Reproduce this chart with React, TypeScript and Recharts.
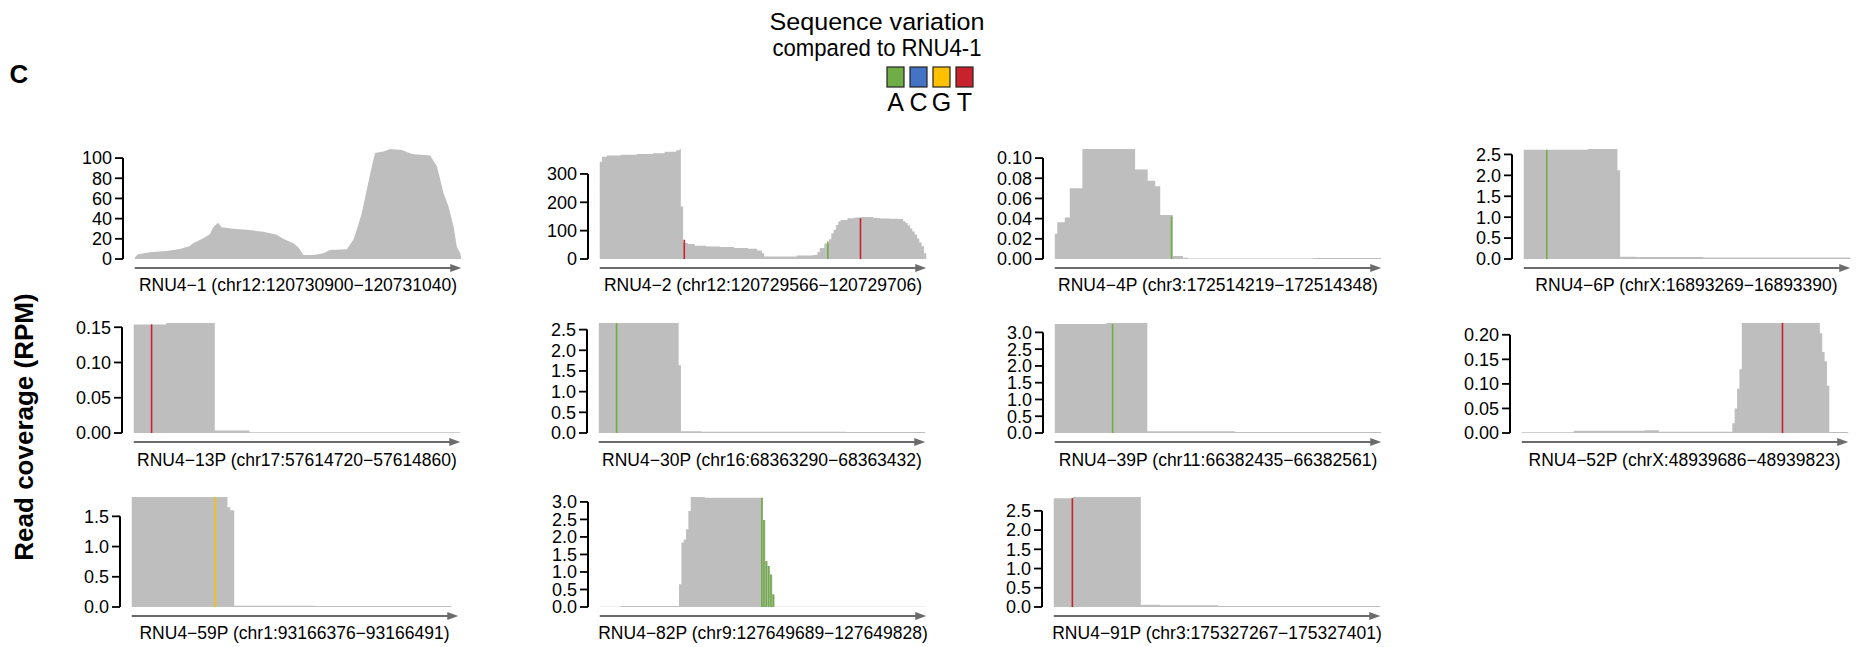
import React from "react";
import { ComposedChart, Area, XAxis, YAxis, ReferenceLine } from "recharts";

const FONT = '"Liberation Sans", Arimo, Helvetica, Arial, sans-serif';

// variant legend
const baseLetters = ["A", "C", "G", "T"];
const baseColors = ["#70AD47", "#4472C4", "#FFC000", "#C8232C"];

const panelLabels = [
  "RNU4−1 (chr12:120730900−120731040)",
  "RNU4−2 (chr12:120729566−120729706)",
  "RNU4−4P (chr3:172514219−172514348)",
  "RNU4−6P (chrX:16893269−16893390)",
  "RNU4−13P (chr17:57614720−57614860)",
  "RNU4−30P (chr16:68363290−68363432)",
  "RNU4−39P (chr11:66382435−66382561)",
  "RNU4−52P (chrX:48939686−48939823)",
  "RNU4−59P (chr1:93166376−93166491)",
  "RNU4−82P (chr9:127649689−127649828)",
  "RNU4−91P (chr3:175327267−175327401)",
];

// locus length in bases
const locusLengths = [141, 141, 130, 122, 141, 143, 127, 138, 116, 140, 135];

// coverage profiles: [base offset, RPM]
const covRNU4_1 = [
  [0, 0], [0.2, 2], [1.4, 4.6], [6.5, 6.6], [13.7, 8], [19.5, 10], [23.8, 13],
  [25.2, 15.5], [29.6, 20.5], [32.4, 24.5], [33.9, 31.5], [36, 36], [37.5, 31.5],
  [42.5, 30], [48.3, 29], [55.5, 27], [61.3, 24], [64.1, 20], [68.5, 15.5],
  [70.6, 11.6], [72.8, 4], [77.1, 4], [81.5, 5.6], [84.3, 9], [91.6, 9.6],
  [94.4, 19], [95.9, 29], [98, 45], [100.2, 68.5], [102.4, 92], [103.8, 105],
  [107.4, 106.6], [110.3, 109], [115.3, 108], [119.7, 104], [127.6, 102.6],
  [130.5, 92], [133.4, 65], [135.5, 52], [137.7, 32], [139.1, 12], [140.6, 5.6], [141, 0],
];
const covRNU4_2 = [
  [0, 343], [1, 361], [3, 365], [9, 368], [16, 370], [23, 373], [28, 378], [33, 384],
  [34.5, 388], [35, 185], [36, 56], [38, 53], [41, 47], [46, 44], [52, 42], [58, 39],
  [64, 36], [68, 30], [70, 20], [71, 9], [78, 9], [85, 12], [92, 14], [94, 25],
  [95, 39], [97, 55], [99, 70], [100, 90], [101, 103], [102, 120], [103, 132],
  [104, 138], [107, 144], [110, 146], [113, 148], [118, 145], [121, 143], [125, 142],
  [129, 141], [131, 133], [132, 127], [133, 118], [134, 108], [135, 97], [136, 86],
  [137, 72], [138, 58], [139, 45], [140, 20], [141, 20],
];
const covRNU4_4P = [
  [0, 0.025], [1, 0.0365], [4, 0.041], [6, 0.07], [11, 0.109], [32, 0.0886],
  [37, 0.0776], [40, 0.072], [42, 0.0435], [47, 0.003], [51, 0.0013], [53, 0.0006],
  [103, 0.001], [130, 0.001],
];
const covRNU4_6P = [
  [0, 2.61], [12, 2.615], [24, 2.63], [35, 2.12], [36, 0.056], [42, 0.045],
  [67, 0.035], [122, 0.035],
];
const covRNU4_13P = [[0, 0.154], [14, 0.156], [35, 0.0035], [50, 0.0012], [141, 0.0012]];
const covRNU4_30P = [[0, 2.66], [35, 1.64], [36, 0.04], [45, 0.032], [108, 0.024], [143, 0.024]];
const covRNU4_39P = [[0, 3.25], [20, 3.28], [36, 0.05], [70, 0.03], [127, 0.03]];
const covRNU4_52P = [
  [0, 0.0014], [22, 0.0047], [52, 0.0054], [58, 0.0027], [89, 0.02], [90, 0.05],
  [91, 0.09], [92, 0.13], [93, 0.224], [126, 0.203], [127, 0.165], [128, 0.146],
  [129, 0.096], [130, 0.002], [138, 0.002],
];
const covRNU4_59P = [[0, 1.82], [34, 1.65], [35, 1.6], [36.4, 0.02], [65, 0.017], [113.5, 0], [116, 0]];
const covRNU4_82P = [
  [0, 0.01], [9, 0.03], [34, 0.65], [35, 1.84], [36, 1.93], [37, 2.22], [38, 2.74],
  [39, 3.14], [45, 3.12], [70, 2.48], [71, 1.31], [72, 1.17], [73, 0.93], [74, 0.36],
  [75, 0.01], [140, 0.01],
];
const covRNU4_91P = [[0, 2.83], [8, 2.86], [36, 0.06], [44, 0.045], [68, 0.026], [135, 0.026]];

// variants vs RNU4-1: [base offset, base, RPM]
const varRNU4_1: [number, string, number][] = [];
const varRNU4_2: [number, string, number][] = [[36.5, "T", 68], [98.5, "A", 62], [112.6, "T", 144]];
const varRNU4_4P: [number, string, number][] = [[46.5, "A", 0.042]];
const varRNU4_6P: [number, string, number][] = [[8.6, "A", 2.61]];
const varRNU4_13P: [number, string, number][] = [[7.7, "T", 0.154]];
const varRNU4_30P: [number, string, number][] = [[7.8, "A", 2.66]];
const varRNU4_39P: [number, string, number][] = [[22.5, "A", 3.25]];
const varRNU4_52P: [number, string, number][] = [[110.2, "T", 0.224]];
const varRNU4_59P: [number, string, number][] = [[29.7, "G", 1.82]];
const varRNU4_82P: [number, string, number][] = [
  [69.5, "A", 3.12], [70.4, "A", 2.48], [71.4, "A", 1.31], [72.4, "A", 1.17],
  [73.4, "A", 0.93], [74.4, "A", 0.36],
];
const varRNU4_91P: [number, string, number][] = [[7.7, "T", 2.83]];

// y ticks
const ticks1 = [0, 20, 40, 60, 80, 100];
const ticks2 = [0, 100, 200, 300];
const ticks4P = [0, 0.02, 0.04, 0.06, 0.08, 0.1];
const ticks6P = [0, 0.5, 1, 1.5, 2, 2.5];
const ticks13P = [0, 0.05, 0.1, 0.15];
const ticks30P = [0, 0.5, 1, 1.5, 2, 2.5];
const ticks39P = [0, 0.5, 1, 1.5, 2, 2.5, 3];
const ticks52P = [0, 0.05, 0.1, 0.15, 0.2];
const ticks59P = [0, 0.5, 1, 1.5];
const ticks82P = [0, 0.5, 1, 1.5, 2, 2.5, 3];
const ticks91P = [0, 0.5, 1, 1.5, 2, 2.5];

const panels = [
  { cov: covRNU4_1, vars: varRNU4_1, ticks: ticks1, digits: 0, curve: "linear" },
  { cov: covRNU4_2, vars: varRNU4_2, ticks: ticks2, digits: 0, curve: "stepAfter" },
  { cov: covRNU4_4P, vars: varRNU4_4P, ticks: ticks4P, digits: 2, curve: "stepAfter" },
  { cov: covRNU4_6P, vars: varRNU4_6P, ticks: ticks6P, digits: 1, curve: "stepAfter" },
  { cov: covRNU4_13P, vars: varRNU4_13P, ticks: ticks13P, digits: 2, curve: "stepAfter" },
  { cov: covRNU4_30P, vars: varRNU4_30P, ticks: ticks30P, digits: 1, curve: "stepAfter" },
  { cov: covRNU4_39P, vars: varRNU4_39P, ticks: ticks39P, digits: 1, curve: "stepAfter" },
  { cov: covRNU4_52P, vars: varRNU4_52P, ticks: ticks52P, digits: 2, curve: "stepAfter" },
  { cov: covRNU4_59P, vars: varRNU4_59P, ticks: ticks59P, digits: 1, curve: "stepAfter" },
  { cov: covRNU4_82P, vars: varRNU4_82P, ticks: ticks82P, digits: 1, curve: "stepAfter" },
  { cov: covRNU4_91P, vars: varRNU4_91P, ticks: ticks91P, digits: 1, curve: "stepAfter" },
].map((p, i) => ({ ...p, label: panelLabels[i], len: locusLengths[i] }));

// layout
const axisLeft = [123, 588, 1043, 1511.5, 122, 587, 1043, 1509.5, 119.5, 588, 1042];
const rowTop = [149, 322.6, 497];
const rowLabelY = [285, 459.5, 633];
const PLOT_W = 350;
const PLOT_H = 119;
const ZERO_PX = 110;
const X_PAD = 0.036;
const YW = 72;
const MT = 12;
const MB = 6;
const MR = 6;

const colorOf = (b: string) => baseColors[baseLetters.indexOf(b)];

const Arrow = (props: any) => {
  const { x1, y1, x2 } = props;
  return (
    <g>
      <line x1={x1} y1={y1} x2={x2 - 8} y2={y1} stroke="#6B6B6B" strokeWidth={2} />
      <polygon points={`${x2},${y1} ${x2 - 11},${y1 - 4} ${x2 - 11},${y1 + 4}`} fill="#6B6B6B" />
    </g>
  );
};

function Panel({ p, idx }: { p: any; idx: number }) {
  const row = Math.floor(idx / 4);
  const ax = axisLeft[idx];
  const top = rowTop[row];
  const data = p.cov.map(([pos, rpm]: number[]) => ({ pos, rpm }));
  const yTop = Math.max(...p.cov.map((c: number[]) => c[1]));
  const yMin = (-yTop * (PLOT_H - ZERO_PX)) / ZERO_PX;
  const pad = p.len * X_PAD;
  const lastTick = p.ticks[p.ticks.length - 1];
  return (
    <>
      <div style={{ position: "absolute", left: ax - YW, top: top - MT }}>
        <ComposedChart
          width={YW + PLOT_W + MR}
          height={MT + PLOT_H + MB}
          data={data}
          margin={{ top: MT, right: MR, bottom: MB, left: 0 }}
        >
          <XAxis type="number" dataKey="pos" domain={[-pad, p.len + pad]} allowDataOverflow hide />
          <YAxis
            type="number"
            domain={[yMin, yTop]}
            allowDataOverflow
            ticks={p.ticks}
            interval={0}
            width={YW}
            axisLine={false}
            stroke="#000"
            tickSize={8}
            tickMargin={3}
            tickLine={{ stroke: "#000", strokeWidth: 1.8 }}
            tick={{ fontSize: 18, fill: "#000", fontFamily: FONT }}
            tickFormatter={(v: number) => v.toFixed(p.digits)}
          />
          <Area
            type={p.curve}
            dataKey="rpm"
            stroke="none"
            fill="#BEBEBE"
            fillOpacity={1}
            baseValue={0}
            dot={false}
            activeDot={false}
            isAnimationActive={false}
          />
          {p.vars.map(([pos, base, rpm]: [number, string, number], i: number) => (
            <ReferenceLine
              key={i}
              segment={[{ x: pos, y: 0 }, { x: pos, y: rpm }]}
              stroke={colorOf(base)}
              strokeWidth={1.6}
              ifOverflow="visible"
            />
          ))}
          <ReferenceLine
            segment={[{ x: -pad, y: 0 }, { x: -pad, y: lastTick }]}
            stroke="#000"
            strokeWidth={2}
            ifOverflow="visible"
          />
          <ReferenceLine
            segment={[{ x: 0, y: yMin }, { x: p.len, y: yMin }]}
            ifOverflow="visible"
            shape={Arrow}
          />
        </ComposedChart>
      </div>
      <div
        style={{
          position: "absolute",
          left: ax + 175 - 250,
          width: 500,
          top: rowLabelY[row] - 11,
          lineHeight: "22px",
          textAlign: "center",
          fontSize: 17.5,
          fontFamily: FONT,
          color: "#000",
          whiteSpace: "nowrap",
        }}
      >
        {p.label}
      </div>
    </>
  );
}

export default function App() {
  return (
    <div
      style={{
        position: "absolute",
        left: 0,
        top: 0,
        width: 1862,
        height: 647,
        background: "#fff",
        overflow: "hidden",
        fontFamily: FONT,
      }}
    >
      <svg width={1862} height={647} style={{ position: "absolute", left: 0, top: 0 }}>
        <text x={19} y={83} fontSize={26} fontWeight="bold" textAnchor="middle" fontFamily={FONT}>
          C
        </text>
        <text x={877} y={29.5} fontSize={24.5} textAnchor="middle" fontFamily={FONT} textLength={215} lengthAdjust="spacingAndGlyphs">
          Sequence variation
        </text>
        <text x={877} y={56} fontSize={24.5} textAnchor="middle" fontFamily={FONT} textLength={209} lengthAdjust="spacingAndGlyphs">
          compared to RNU4-1
        </text>
        {baseLetters.map((b, i) => (
          <g key={b}>
            <rect x={887 + i * 23} y={67} width={17} height={20} fill={baseColors[i]} stroke="#222" strokeWidth={1.2} />
            <text x={895.5 + i * 23} y={111} fontSize={25} textAnchor="middle" fontFamily={FONT}>
              {b}
            </text>
          </g>
        ))}
        <text
          x={24}
          y={427}
          fontSize={26}
          fontWeight="bold"
          textAnchor="middle"
          dominantBaseline="central"
          fontFamily={FONT}
          transform="rotate(-90 24 427)"
        >
          Read coverage (RPM)
        </text>
      </svg>
      {panels.map((p, i) => (
        <Panel key={i} p={p} idx={i} />
      ))}
    </div>
  );
}
